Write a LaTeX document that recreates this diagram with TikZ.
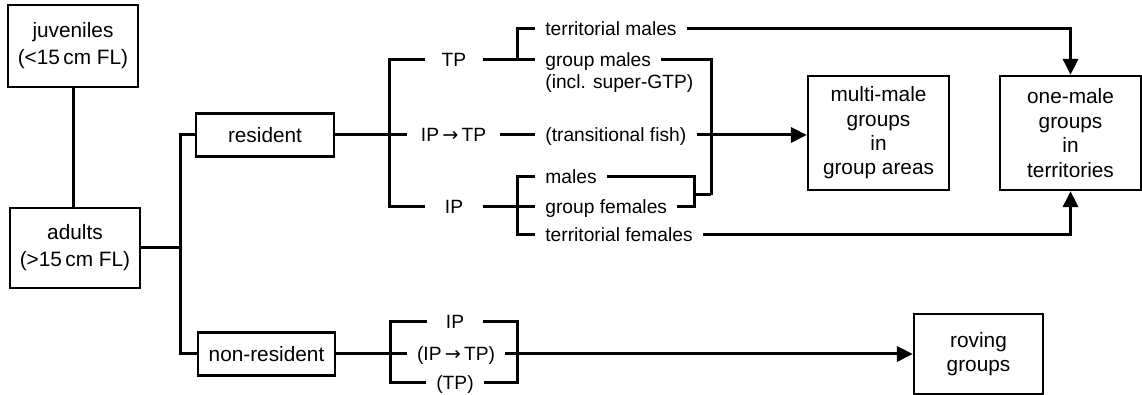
\documentclass[tikz,border=0pt]{standalone}
\usepackage{fontspec}
\setmainfont{Liberation Sans}
\newfontfamily\arrowfont{DejaVu Sans}
\usetikzlibrary{positioning, arrows.meta, calc}

\newcommand{\toarrow}{{\arrowfont\,→\,}}

\tikzset{
    box/.style={draw, line width=1.1pt, align=center, inner sep=0pt,
        font=\fontsize{10.4}{12.2}\selectfont},
    lbl/.style={inner xsep=5pt, inner ysep=0pt, text height=7pt, text depth=0pt,
        font=\fontsize{9.6}{11}\selectfont},
    con/.style={line width=1.5pt},
    arr/.style={con, -{Triangle[length=8pt,width=7.5pt]}}
}

\begin{document}
\begin{tikzpicture}[x=0.5pt, y=-0.5pt]
    \useasboundingbox (0,0) rectangle (1142,395);

    % boxes
    \node[box, minimum width=65pt, minimum height=41pt, font=\fontsize{10.4}{13.5}\selectfont]
        (juv) at (73,46) {juveniles\\(<15\,cm FL)};
    \node[box, minimum width=65pt, minimum height=40pt, font=\fontsize{10.4}{13.5}\selectfont]
        (adults) at (75,248) {adults\\(>15\,cm FL)};
    \node[box, minimum width=69pt, minimum height=21.5pt] (res) at (265,135) {resident};
    \node[box, minimum width=68.5pt, minimum height=21.5pt] (nonres) at (266.5,354) {non-resident};
    \node[box, minimum width=70.5pt, minimum height=57pt] (multi) at (878.5,133) {multi-male\\groups\\in\\group areas};
    \node[box, minimum width=70.5pt, minimum height=57pt] (onemale) at (1070.5,133) {one-male\\groups\\in\\territories};
    \node[box, minimum width=64.5pt, minimum height=40pt] (roving) at (978.5,354) {roving\\groups};

    % resident: phases
    \node[lbl, minimum width=29pt] (tp) at (454,60) {TP};
    \node[lbl, minimum width=46.5pt] (iptp) at (453.5,135) {IP\toarrow TP};
    \node[lbl, minimum width=29pt] (ip) at (454,207) {IP};

    % resident: fish
    \foreach \n/\y/\t in {
        terrm/29/territorial males,
        grpm/60/group males,
        grpmnote/82/(incl. super-GTP),
        trans/135/(transitional fish),
        males/177/males,
        grpf/207/group females,
        terrf/235/territorial females}
    {
        \node[lbl, anchor=west] (\n) at (535,\y) {\t};
    }

    % non-resident: phases
    \node[lbl, minimum width=28pt] (ip2) at (455,322) {IP};
    \node[lbl] (iptp2) at (456,354) {(IP\toarrow TP)};
    \node[lbl, minimum width=28pt] (tp2) at (455,383) {(TP)};

    \coordinate (splitA) at (180,248);
    \coordinate (splitR) at (389,135);
    \coordinate (brTP) at (517,60);
    \coordinate (brIP) at (517,207);
    \coordinate (jF) at (694,195);
    \coordinate (jGM) at (711,195);
    \coordinate (splitN) at (390,354);
    \coordinate (splitN2) at (517,354);

    % juveniles / adults
    \draw[con] (juv.south) -- (juv.south |- adults.north);
    \draw[con] (adults.east) -- (splitA);
    \draw[con] (res.west) -| (splitA) |- (nonres.west);

    % resident tree
    \draw[con] (res.east) -- (iptp.west);
    \draw[con] (tp.west) -| (splitR) |- (ip.west);
    \draw[con] (tp.east) -- (grpm.west);
    \draw[con] (terrm.west) -| (brTP);
    \draw[con] (iptp.east) -- (trans.west);
    \draw[con] (ip.east) -- (grpf.west);
    \draw[con] (males.west) -| (brIP) |- (terrf.west);

    % to the groups
    \draw[con] (males.east) -| (jF) |- (grpf.east);
    \draw[con] (jF) -- (jGM);
    \draw[con] (grpm.east) -| (jGM);
    \draw[arr] (trans.east) -- (trans.east -| multi.west);
    \draw[arr] (terrm.east) -| (onemale.north);
    \draw[arr] (terrf.east) -| (onemale.south);

    % non-resident tree
    \draw[con] (nonres.east) -- (iptp2.west);
    \draw[con] (ip2.west) -| (splitN) |- (tp2.west);
    \draw[con] (ip2.east) -| (splitN2) |- (tp2.east);
    \draw[arr] (iptp2.east) -- (iptp2.east -| roving.west);
\end{tikzpicture}
\end{document}
